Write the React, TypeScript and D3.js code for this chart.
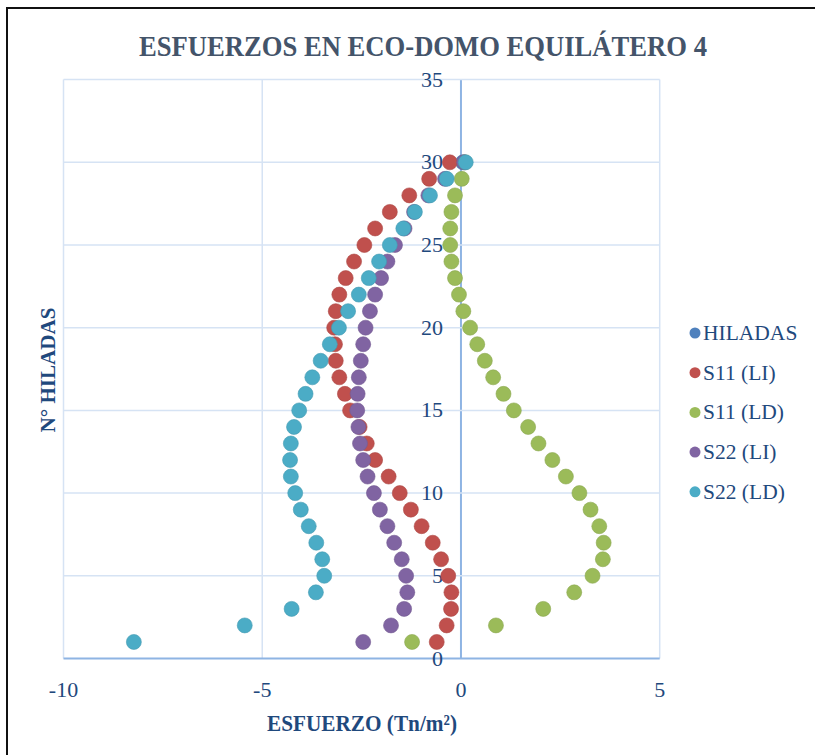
import React, { useEffect, useRef } from 'react';
import * as d3 from 'd3';

const hiladas = d3.range(1, 31);
const s11LI = [-0.61, -0.36, -0.25, -0.24, -0.32, -0.5, -0.71, -0.99, -1.26, -1.54, -1.82, -2.16, -2.37, -2.55, -2.79, -2.92, -3.06, -3.15, -3.17, -3.19, -3.15, -3.06, -2.9, -2.69, -2.43, -2.16, -1.79, -1.3, -0.8, -0.28];
const s11LD = [-1.23, 0.88, 2.07, 2.85, 3.31, 3.57, 3.59, 3.48, 3.26, 2.98, 2.64, 2.3, 1.95, 1.69, 1.33, 1.07, 0.81, 0.6, 0.41, 0.23, 0.06, -0.05, -0.15, -0.24, -0.27, -0.27, -0.24, -0.15, 0.02, 0.1];
const s22LI = [-2.46, -1.76, -1.43, -1.35, -1.38, -1.49, -1.68, -1.85, -2.04, -2.19, -2.35, -2.46, -2.54, -2.58, -2.61, -2.6, -2.57, -2.52, -2.46, -2.4, -2.29, -2.16, -2.01, -1.85, -1.66, -1.42, -1.18, -0.82, -0.4, 0.08];
const s22LD = [-8.23, -5.44, -4.26, -3.65, -3.44, -3.49, -3.64, -3.83, -4.03, -4.17, -4.28, -4.3, -4.28, -4.2, -4.07, -3.91, -3.74, -3.53, -3.3, -3.07, -2.84, -2.57, -2.32, -2.06, -1.79, -1.45, -1.16, -0.78, -0.36, 0.12];
const hiladasX = [0.05];
const hiladasY = [30];

const seriesNames = ['HILADAS', 'S11 (LI)', 'S11 (LD)', 'S22 (LI)', 'S22 (LD)'];
const colors = ['#4F81BD', '#C0504D', '#9BBB59', '#8064A2', '#4BACC6'];
const xTicks = [-10, -5, 0, 5];
const yTicks = [0, 5, 10, 15, 20, 25, 30, 35];

const W = 815;
const H = 755;

const App: React.FC = () => {
  const svgRef = useRef<SVGSVGElement>(null);

  useEffect(() => {
    if (!svgRef.current) return;
    const svg = d3.select(svgRef.current);
    svg.selectAll('*').remove();

    const serif = "'Liberation Serif', 'Times New Roman', serif";
    const x = d3.scaleLinear().domain([-10, 5]).range([63.5, 659.7]);
    const y = d3.scaleLinear().domain([0, 35]).range([658.5, 79.6]);

    svg.append('rect').attr('width', W).attr('height', H).attr('fill', '#fff');
    svg.append('rect')
      .attr('x', 7).attr('y', 8).attr('width', W + 20).attr('height', H + 20)
      .attr('fill', 'none').attr('stroke', '#111').attr('stroke-width', 2);

    // gridlines
    const grid = svg.append('g');
    grid.selectAll('line.v').data(xTicks).join('line')
      .attr('x1', d => x(d)).attr('x2', d => x(d))
      .attr('y1', y(35)).attr('y2', y(0))
      .attr('stroke', d => (d === 0 ? '#8EB4E3' : '#D6E3F4')).attr('stroke-width', d => (d === 0 ? 2 : 1.5));
    grid.selectAll('line.h').data(yTicks).join('line')
      .attr('x1', x(-10)).attr('x2', x(5))
      .attr('y1', d => y(d)).attr('y2', d => y(d))
      .attr('stroke', d => (d === 0 ? '#8EB4E3' : '#D6E3F4')).attr('stroke-width', d => (d === 0 ? 2 : 1.5));

    // tick labels
    svg.append('g').selectAll('text').data(xTicks).join('text')
      .attr('x', d => x(d)).attr('y', 697)
      .attr('text-anchor', 'middle')
      .attr('font-family', serif).attr('font-size', 22).attr('fill', '#1F497D')
      .text(d => d);
    svg.append('g').selectAll('text').data(yTicks).join('text')
      .attr('x', x(0) - 18).attr('y', d => y(d) + 7)
      .attr('text-anchor', 'end')
      .attr('font-family', serif).attr('font-size', 22).attr('fill', '#1F497D')
      .text(d => d);

    // points
    const all = [
      { xs: hiladasX, ys: hiladasY },
      { xs: s11LI, ys: hiladas },
      { xs: s11LD, ys: hiladas },
      { xs: s22LI, ys: hiladas },
      { xs: s22LD, ys: hiladas },
    ];
    all.forEach((s, i) => {
      svg.append('g').selectAll('circle').data(s.xs).join('circle')
        .attr('cx', d => x(d)).attr('cy', (d, j) => y(s.ys[j]))
        .attr('r', 7.5)
        .attr('fill', colors[i])
        .attr('stroke', d3.color(colors[i])!.darker(0.3).toString())
        .attr('stroke-width', 0.6);
    });

    // titles
    svg.append('text')
      .attr('x', 423).attr('y', 56).attr('text-anchor', 'middle')
      .attr('font-family', serif).attr('font-weight', 'bold').attr('font-size', 29)
      .attr('textLength', 568).attr('lengthAdjust', 'spacingAndGlyphs')
      .attr('fill', '#44546A')
      .text('ESFUERZOS EN ECO-DOMO EQUILÁTERO 4');
    svg.append('text')
      .attr('x', 362).attr('y', 731).attr('text-anchor', 'middle')
      .attr('font-family', serif).attr('font-weight', 'bold').attr('font-size', 23)
      .attr('textLength', 190).attr('lengthAdjust', 'spacingAndGlyphs')
      .attr('fill', '#1F497D')
      .text('ESFUERZO (Tn/m²)');
    svg.append('text')
      .attr('transform', `translate(55,370) rotate(-90)`)
      .attr('text-anchor', 'middle')
      .attr('font-family', serif).attr('font-weight', 'bold').attr('font-size', 22)
      .attr('textLength', 125).attr('lengthAdjust', 'spacingAndGlyphs')
      .attr('fill', '#1F497D')
      .text('N° HILADAS');

    // legend
    const lg = svg.append('g');
    seriesNames.forEach((name, i) => {
      const ly = 333 + i * 39.7;
      lg.append('circle').attr('cx', 695).attr('cy', ly).attr('r', 5.5).attr('fill', colors[i]);
      lg.append('text').attr('x', 703).attr('y', ly + 7)
        .attr('font-family', serif).attr('font-size', 21.5).attr('fill', '#1F497D')
        .text(name);
    });
  }, []);

  return (
    <div style={{ position: 'absolute', left: 0, top: 0 }}>
      <svg ref={svgRef} width={W} height={H} style={{ display: 'block' }} />
    </div>
  );
};

export default App;
